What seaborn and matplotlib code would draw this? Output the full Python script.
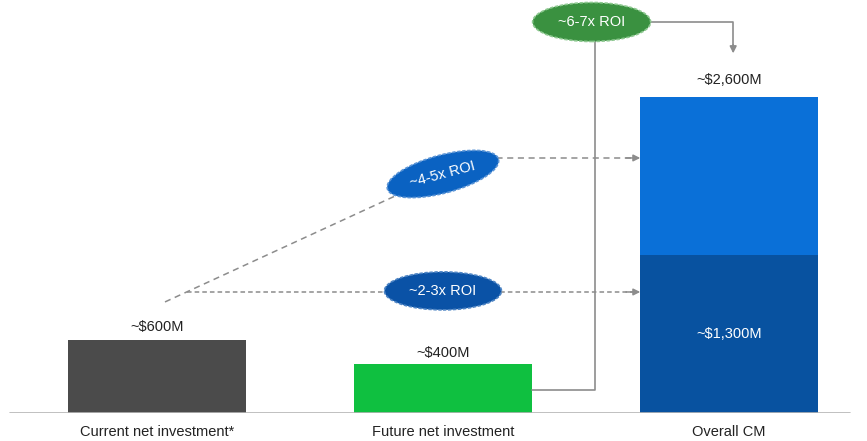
import matplotlib
matplotlib.use("Agg")
import matplotlib.pyplot as plt
from matplotlib.patches import Ellipse
from matplotlib.transforms import ScaledTranslation
import seaborn as sns
import pandas as pd

categories = ["Current net investment*", "Future net investment", "Overall CM"]
values = [600, 400, 2600]
value_labels = ["~$600M", "~$400M", "~$2,600M"]
overall_lower = 1300
overall_lower_label = "~$1,300M"
roi_labels = ["~2-3x ROI", "~4-5x ROI", "~6-7x ROI"]

bar_colors = ["#4b4b4b", "#0fc040", "#0a70d8"]
lower_color = "#0852a0"

sns.set_theme(style="white")
plt.rcParams["font.family"] = ["Liberation Sans", "DejaVu Sans"]

fig = plt.figure(figsize=(8.67, 4.41), dpi=100)
ax = fig.add_axes([0, 28 / 441, 1, 413 / 441])

df = pd.DataFrame({"category": categories, "value": values})
sns.barplot(data=df, x="category", y="value", hue="category", palette=bar_colors,
            order=categories, width=0.62, legend=False, ax=ax, saturation=1,
            linewidth=0)
df2 = pd.DataFrame({"category": [categories[2]], "value": [overall_lower]})
sns.barplot(data=df2, x="category", y="value", order=categories, color=lower_color,
            width=0.62, ax=ax, saturation=1, linewidth=0)

ax.set_xlim(-0.549, 2.483)
ax.set_ylim(0, 3399)
for s in ax.spines.values():
    s.set_visible(False)
ax.set_yticks([])
ax.set_xlabel("")
ax.set_ylabel("")
ax.tick_params(axis="x", length=0, pad=9, labelsize=10.5, labelcolor="#222222")
ax.axhline(0, xmin=10 / 867, xmax=850 / 867, color="#b5b5b5", lw=1.2, zorder=5)

# value labels
offsets = [108, 94, 140]
for i, (v, lab) in enumerate(zip(values, value_labels)):
    ax.text(i, v + offsets[i], lab, ha="center", va="center", fontsize=10.5, color="#222222")
ax.text(2, overall_lower / 2, overall_lower_label, ha="center", va="center",
        fontsize=10.5, color="white")

grey = "#8c8c8c"
# dashed connectors
ax.plot([0.028, 1.0], [914, 1967], ls=(0, (4, 3)), color=grey, lw=1.1, zorder=2)
ax.plot([1.0, 1.665], [2099, 2099], ls=(0, (4, 3)), color=grey, lw=1.1, zorder=2)
ax.plot([0.105, 1.665], [996, 996], ls=(0, (3, 2)), color=grey, lw=1.1, zorder=2)
for yy in [2099, 996]:
    ax.annotate("", xy=(1.69, yy), xytext=(1.64, yy),
                arrowprops=dict(arrowstyle="-|>", color=grey, lw=1.1,
                                mutation_scale=10, shrinkA=0, shrinkB=0))
# solid connector
ax.plot([1.31, 1.532, 1.532, 2.015, 2.015], [189, 189, 3218, 3218, 3010],
        color=grey, lw=1.2, zorder=2)
ax.annotate("", xy=(2.015, 2960), xytext=(2.015, 3030),
            arrowprops=dict(arrowstyle="-|>", color=grey, lw=1.2,
                            mutation_scale=10, shrinkA=0, shrinkB=0))

# ellipses
def ellipse(x, y, w, h, angle, color, edge, text):
    tr = fig.dpi_scale_trans + ScaledTranslation(x, y, ax.transData)
    e = Ellipse((0, 0), w, h, angle=angle, transform=tr, facecolor=color,
                edgecolor=edge, lw=1.2, zorder=6, linestyle=(0, (2, 1)))
    ax.add_patch(e)
    ax.text(x, y, text, ha="center", va="center", color="white", fontsize=10.5,
            rotation=angle, zorder=7, rotation_mode="anchor")

ellipse(1.0, 1005, 1.17, 0.38, 0, "#0a52a6", "#4d84c4", roi_labels[0])
ellipse(1.0, 1967, 1.15, 0.38, 15, "#0a62c2", "#5a94d6", roi_labels[1])
ellipse(1.52, 3218, 1.18, 0.39, 0, "#3a9140", "#8cc88f", roi_labels[2])

fig.savefig("out.png", dpi=100)
